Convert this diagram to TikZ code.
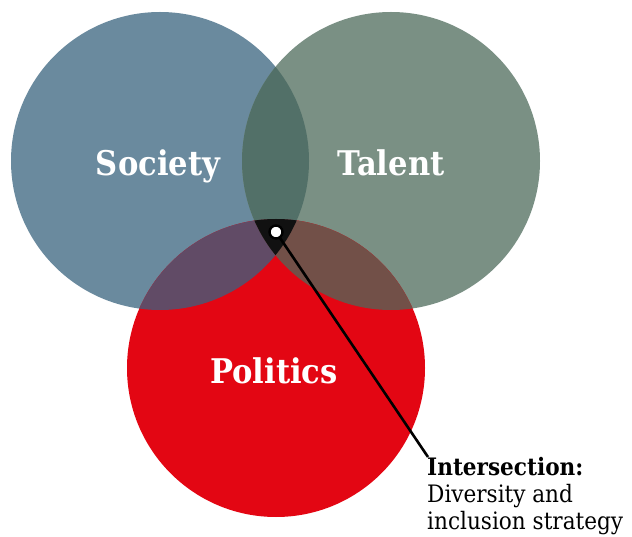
\documentclass[tikz,border=0pt]{standalone}
\usepackage{fontspec}
\setmainfont{DejaVu Serif Condensed}
\usepackage{xcolor}
\usetikzlibrary{positioning, calc}

\definecolor{societyblue}{HTML}{6A8A9E}
\definecolor{talentgreen}{HTML}{7A9084}
\definecolor{politicsred}{HTML}{E30613}
\definecolor{socTal}{HTML}{527068}
\definecolor{socPol}{HTML}{614B66}
\definecolor{talPol}{HTML}{725048}
\definecolor{allthree}{HTML}{111111}

\begin{document}
\begin{tikzpicture}[
    x=1pt, y=-1pt,
    venn/.style={circle, minimum size=298pt, inner sep=0pt},
    vennlabel/.style={anchor=base, inner sep=0pt, text=white, font=\fontsize{34}{37}\selectfont\bfseries},
    notetext/.style={font=\fontsize{24}{27}\selectfont, align=left, anchor=north west, inner sep=0pt}
]
\useasboundingbox (0,0) rectangle (632,537);

% ==================== CIRCLES ====================
\node[venn, fill=societyblue] (society) at (160,161) {};
\node[venn, fill=talentgreen] (talent) at (391,161) {};
\node[venn, fill=politicsred] (politics) at (276,368) {};

% Overlaps
\begin{scope}
  \clip (society.center) circle (149pt);
  \fill[socTal] (talent.center) circle (149pt);
  \fill[socPol] (politics.center) circle (149pt);
\end{scope}
\begin{scope}
  \clip (talent.center) circle (149pt);
  \fill[talPol] (politics.center) circle (149pt);
\end{scope}
\begin{scope}
  \clip (society.center) circle (149pt);
  \clip (talent.center) circle (149pt);
  \fill[allthree] (politics.center) circle (149pt);
\end{scope}

% Labels
\node[vennlabel] (societylabel) at (158,176) {Society};
\node[vennlabel] (talentlabel) at (391,176) {Talent};
\node[vennlabel] (politicslabel) at (274,384) {Politics};

% ==================== ANNOTATION ====================
\node[notetext] (note) at (427,457) {\textbf{Intersection:}\\Diversity and\\inclusion strategy};
\node[circle, fill=white, draw=black, line width=2.4pt, minimum size=13pt, inner sep=0pt] (dot) at (276,232) {};
\draw[line width=2.6pt] (dot) -- ($(note.north west)+(1,0)$);

\end{tikzpicture}
\end{document}
